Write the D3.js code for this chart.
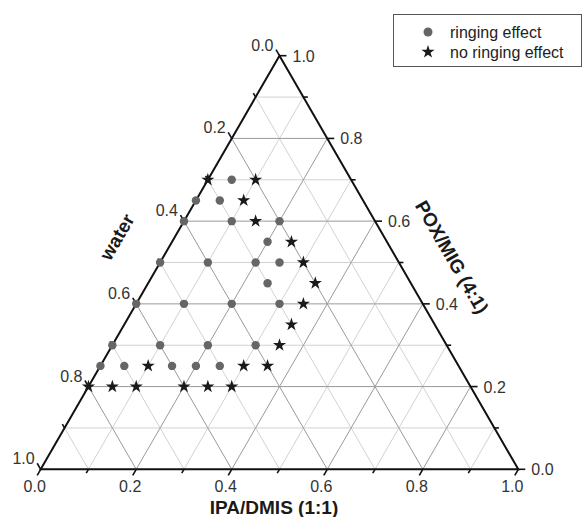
<!DOCTYPE html>
<html><head><meta charset="utf-8">
<script src="https://cdn.jsdelivr.net/npm/d3@7"></script>
<style>body{margin:0;background:#fff}svg{display:block}text{font-family:"Liberation Sans",Arial,sans-serif}</style>
</head><body><svg id="c" width="585" height="517"></svg>
<script>
// ternary components: ipa = IPA/DMIS (1:1), water, pox = POX/MIG (4:1)
const ringIpa   = [0.05, 0, 0.05, 0, 0.1, 0.2, 0.2, 0, 0.1, 0.2, 0.25, 0.25, 0, 0.1, 0.2, 0.3, 0, 0.1, 0.2, 0.3, 0, 0.05, 0.15, 0.2, 0.25];
const ringPox   = [0.7, 0.65, 0.65, 0.6, 0.6, 0.6, 0.55, 0.5, 0.5, 0.5, 0.5, 0.45, 0.4, 0.4, 0.4, 0.4, 0.3, 0.3, 0.3, 0.3, 0.25, 0.25, 0.25, 0.25, 0.25];
const noRingIpa = [0, 0.1, 0.1, 0.15, 0.25, 0.3, 0.35, 0.35, 0.35, 0.35, 0.1, 0.3, 0.35, 0, 0.05, 0.1, 0.2, 0.25, 0.3];
const noRingPox = [0.7, 0.7, 0.65, 0.6, 0.55, 0.5, 0.45, 0.4, 0.35, 0.3, 0.25, 0.25, 0.25, 0.2, 0.2, 0.2, 0.2, 0.2, 0.2];
const ringWater   = ringIpa.map((a,i)=>+(1-a-ringPox[i]).toFixed(2));
const noRingWater = noRingIpa.map((a,i)=>+(1-a-noRingPox[i]).toFixed(2));
const tickValues = [0, 0.2, 0.4, 0.6, 0.8, 1.0];
const minorValues = [0.1, 0.3, 0.5, 0.7, 0.9];
const gridValues = [0.1, 0.2, 0.3, 0.4, 0.5, 0.6, 0.7, 0.8, 0.9];
const legendLabels = ["ringing effect", "no ringing effect"];
const axisTitles = {bottom: "IPA/DMIS (1:1)", left: "water", right: "POX/MIG (4:1)"};

const svg = d3.select("#c");
const x = d3.scaleLinear().domain([0,1]).range([40.7, 518.3]);
const y = d3.scaleLinear().domain([0,1]).range([469.3, 55.7]);
// project (ipa, pox) ; water implied
const P = (ipa, pox) => [x(ipa + pox/2), y(pox)];
const fmt = d3.format(".1f");
const line = d3.line();

// grid: minor first, then majors on top
const g = svg.append("g");
const gridSegs = v => [
  [P(0, v), P(1 - v, v)],          // pox = v
  [P(v, 0), P(v, 1 - v)],          // ipa = v
  [P(0, 1 - v), P(1 - v, 0)]       // water = v
];
gridValues.filter((v,i)=>i%2===0).forEach(v => gridSegs(v).forEach(s =>
  g.append("path").attr("d", line(s)).attr("stroke", "#d2d2d2").attr("stroke-width", 1).attr("fill", "none")));
gridValues.filter((v,i)=>i%2===1).forEach(v => gridSegs(v).forEach(s =>
  g.append("path").attr("d", line(s)).attr("stroke", "#9a9a9a").attr("stroke-width", 1).attr("fill", "none")));

// ticks
const ax = svg.append("g").attr("stroke", "#111").attr("stroke-width", 1.6);
const dirs = {bottom: [-0.5, 0.866], left: [-0.5, -0.866], right: [1, 0]};
const posOf = {
  bottom: v => P(v, 0),
  left: v => P(0, 1 - v),
  right: v => P(1 - v, v)
};
["bottom","left","right"].forEach(k => {
  const d = dirs[k];
  tickValues.forEach(v => {
    const p = posOf[k](v);
    ax.append("path").attr("d", line([p, [p[0]+d[0]*7, p[1]+d[1]*7]]));
  });
  minorValues.forEach(v => {
    const p = posOf[k](v);
    ax.append("path").attr("d", line([p, [p[0]+d[0]*4.5, p[1]+d[1]*4.5]]));
  });
});
// triangle
svg.append("path").attr("d", line([P(0,0), P(1,0), P(0,1)]) + "Z")
  .attr("fill", "none").attr("stroke", "#111").attr("stroke-width", 2).attr("stroke-linejoin", "miter");

// tick labels
const tl = svg.append("g").attr("fill", "#333").attr("font-size", 16);
tickValues.forEach(v => {
  const pb = posOf.bottom(v);
  tl.append("text").attr("x", pb[0] - 6).attr("y", pb[1] + 23).attr("text-anchor", "middle").text(fmt(v));
  const pl = posOf.left(v);
  tl.append("text").attr("x", pl[0] - 6).attr("y", pl[1] - 5).attr("text-anchor", "end").text(fmt(v));
  const pr = posOf.right(v);
  tl.append("text").attr("x", pr[0] + 13).attr("y", pr[1] + 6).attr("text-anchor", "start").text(fmt(v));
});

// axis titles
const at = svg.append("g").attr("fill", "#1a1a1a").attr("font-weight", "bold").attr("font-size", 19);
at.append("text").attr("x", 274).attr("y", 514).attr("text-anchor", "middle").text(axisTitles.bottom);
at.append("text").attr("transform", "translate(117,237) rotate(-60)").attr("text-anchor", "middle").attr("dy", "0.35em").text(axisTitles.left);
at.append("text").attr("transform", "translate(452,257) rotate(60)").attr("text-anchor", "middle").attr("dy", "0.35em").text(axisTitles.right);

// data
const ring = ringIpa.map((a,i)=>({ipa:a, pox:ringPox[i], water:ringWater[i]}));
const noRing = noRingIpa.map((a,i)=>({ipa:a, pox:noRingPox[i], water:noRingWater[i]}));
const circ = d3.symbol(d3.symbolCircle).size(56);
const star = d3.symbol(d3.symbolStar).size(54);
svg.append("g").selectAll("path").data(ring).join("path")
  .attr("transform", d => { const p = P(d.ipa, d.pox); return `translate(${p[0]},${p[1]})`; })
  .attr("d", circ).attr("fill", "#666");
svg.append("g").selectAll("path").data(noRing).join("path")
  .attr("transform", d => { const p = P(d.ipa, d.pox); return `translate(${p[0]},${p[1]})`; })
  .attr("d", star).attr("fill", "#1a1a1a");

// legend
const lg = svg.append("g");
lg.append("rect").attr("x", 393.5).attr("y", 14.5).attr("width", 188).attr("height", 52)
  .attr("fill", "#fff").attr("stroke", "#555").attr("stroke-width", 1);
lg.append("path").attr("transform", "translate(428,32)").attr("d", d3.symbol(d3.symbolCircle).size(64)).attr("fill", "#666");
lg.append("path").attr("transform", "translate(428,52)").attr("d", star).attr("fill", "#1a1a1a");
lg.selectAll("text").data(legendLabels).join("text")
  .attr("x", 450).attr("y", (d,i)=>32 + i*20).attr("dy", "0.35em")
  .attr("font-size", 16).attr("fill", "#222").text(d=>d);
</script></body></html>
